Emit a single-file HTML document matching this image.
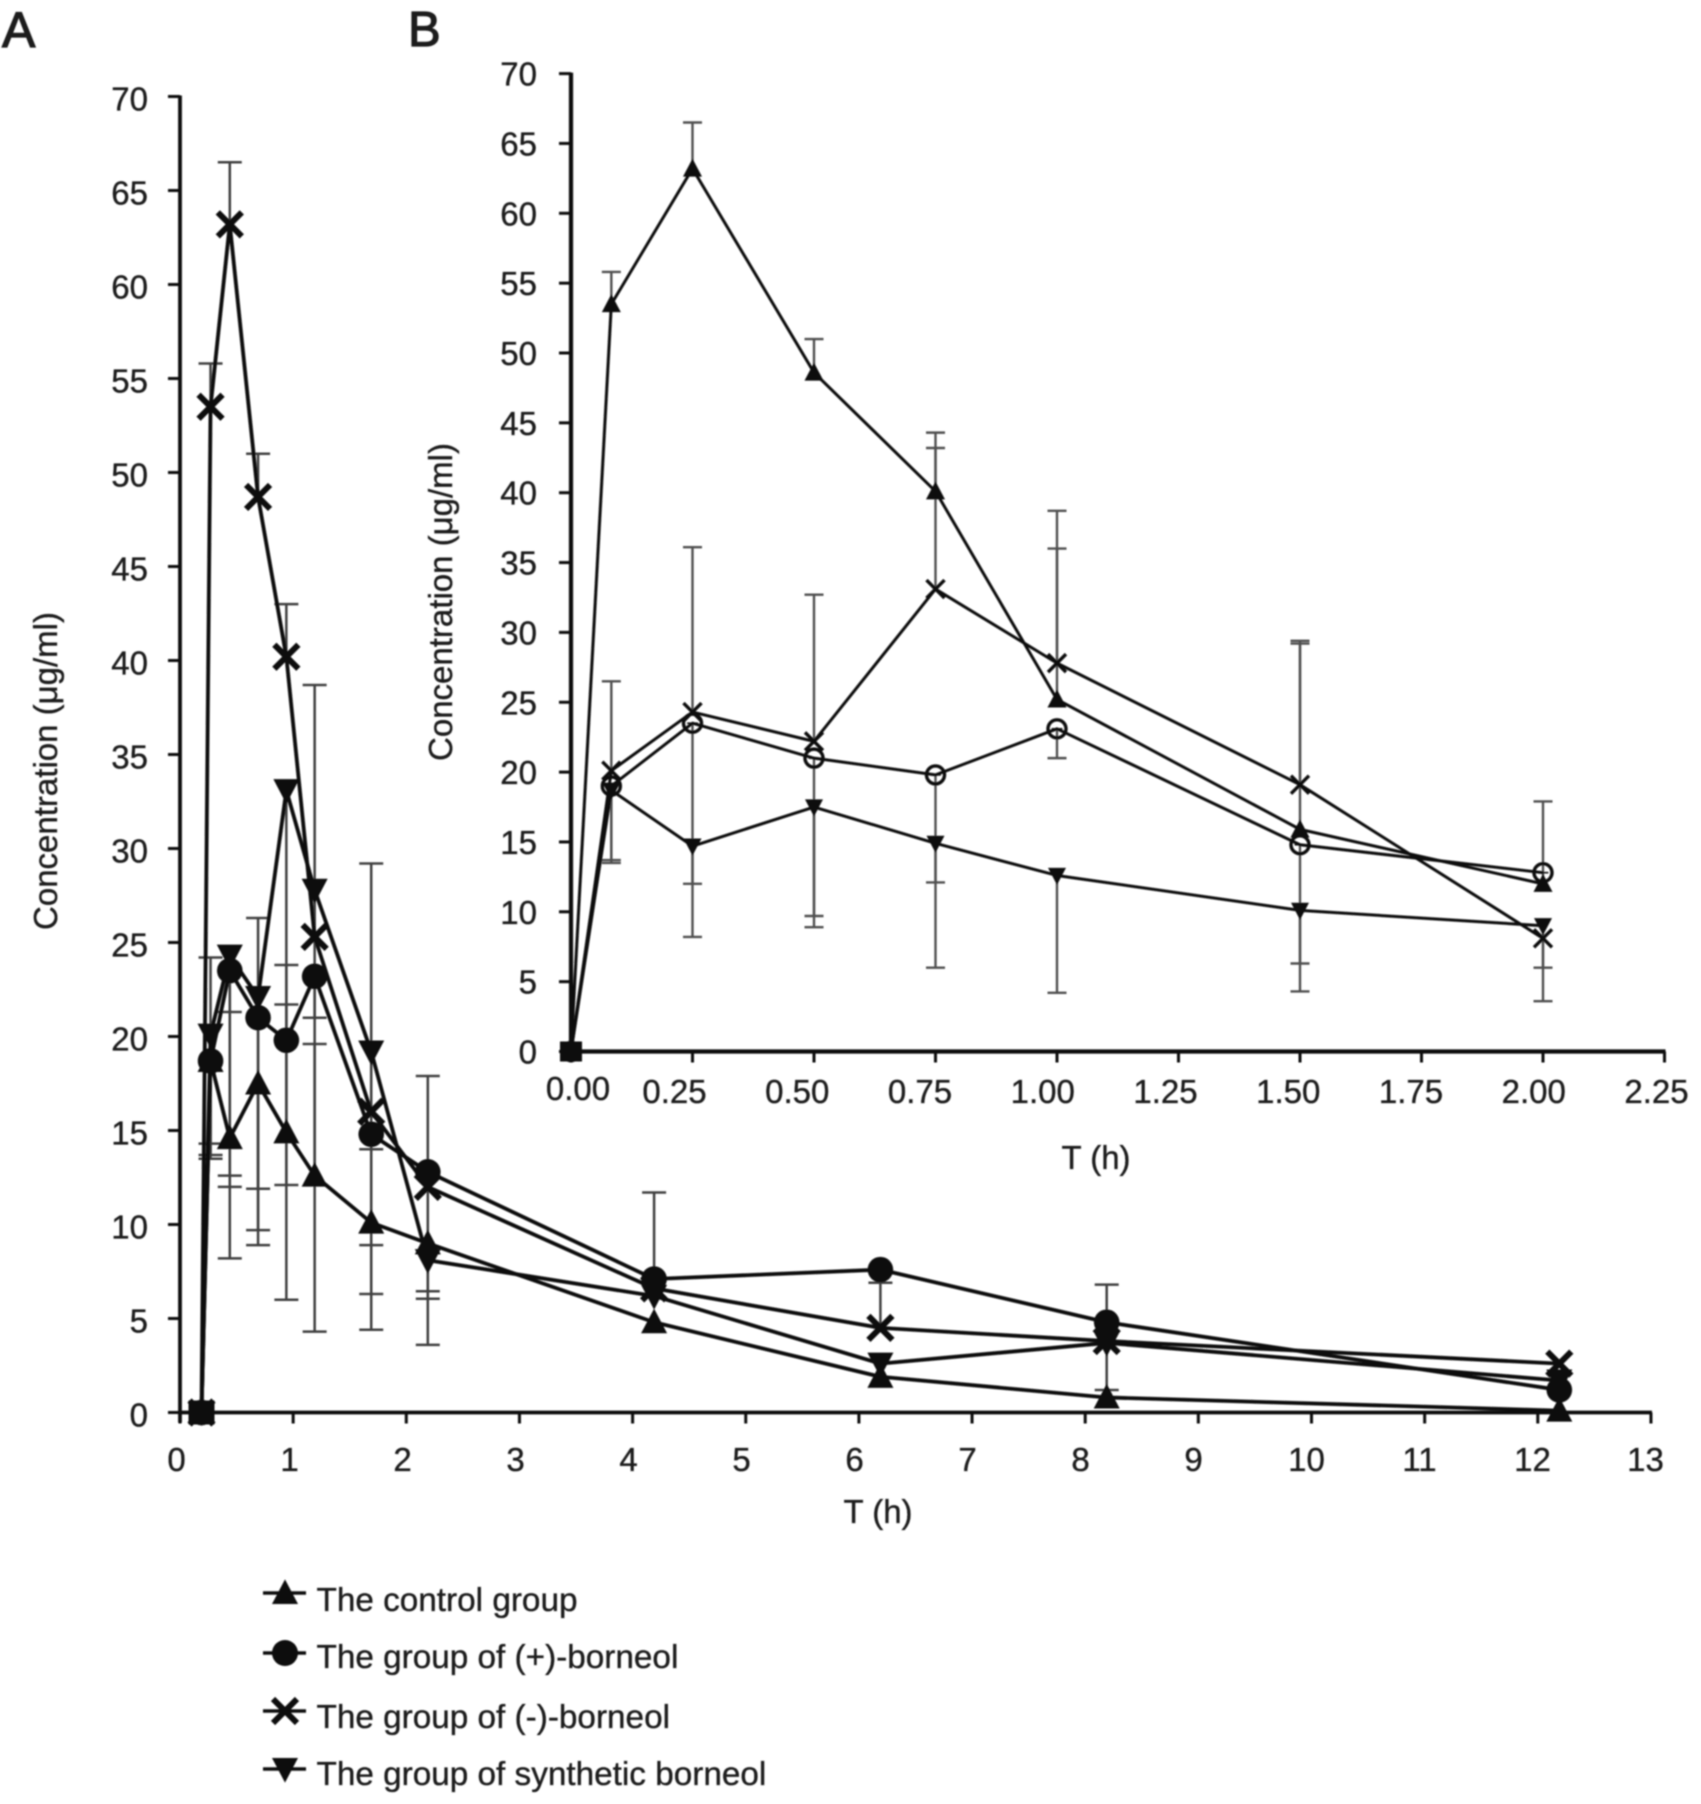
<!DOCTYPE html>
<html lang="en">
<head>
<meta charset="utf-8">
<title>Concentration over time by borneol group</title>
<style>
html,body{margin:0;padding:0;background:#fff;width:1701px;height:1804px;overflow:hidden}
svg{display:block}
text{font-family:"Liberation Sans",sans-serif;fill:#1a1a1a;stroke:#1a1a1a;stroke-width:0.35px}
</style>
</head>
<body>
<svg id="figure" xmlns="http://www.w3.org/2000/svg" width="1701" height="1804" viewBox="0 0 1701 1804">
<defs><filter id="soft" x="-2%" y="-2%" width="104%" height="104%"><feGaussianBlur stdDeviation="0.7"/></filter></defs>
<rect width="1701" height="1804" fill="#fff"/>
<g id="root" filter="url(#soft)">
<text x="2" y="47" font-size="50" style="stroke-width:1.2px">A</text>
<text x="408" y="46" font-size="49" style="stroke-width:1.2px">B</text>
<text transform="translate(57,771) rotate(-90)" text-anchor="middle" font-size="33">Concentration (μg/ml)</text>
<text transform="translate(452,602) rotate(-90)" text-anchor="middle" font-size="33">Concentration (μg/ml)</text>
<text x="878" y="1523" text-anchor="middle" font-size="33">T (h)</text>
<text x="1096" y="1169" text-anchor="middle" font-size="33">T (h)</text>
<g id="legend">
<text x="316.5" y="1611" font-size="33.3">The control group</text>
<text x="316.5" y="1668" font-size="33.3">The group of (+)-borneol</text>
<text x="316.5" y="1728" font-size="33.3">The group of (-)-borneol</text>
<text x="316.5" y="1785" font-size="33.3">The group of synthetic borneol</text>
</g>
</g>
</svg>
<script>
// ---- shared data ----
const yTickValues = [0,5,10,15,20,25,30,35,40,45,50,55,60,65,70];
const xTickValuesA = [0,1,2,3,4,5,6,7,8,9,10,11,12,13];
const xTickValuesB = [0,0.25,0.5,0.75,1,1.25,1.5,1.75,2,2.25];
const xTickLabelsB = ['0.00','0.25','0.50','0.75','1.00','1.25','1.50','1.75','2.00','2.25'];

// ---- panel A data ----
const timesA = [0.19,0.27,0.44,0.69,0.94,1.19,1.69,2.19,4.19,6.19,8.19,12.19];
const controlA = [0,18.7,14.6,17.5,14.9,12.6,10.1,9,4.8,1.9,0.8,0.1];
const plusA = [0,18.7,23.5,21,19.8,23.2,14.8,12.8,7.1,7.6,4.8,1.2];
const minusA = [0,53.5,63.2,48.7,40.2,25.3,16,12,6.6,4.5,3.8,2.6];
const syntheticA = [0,20.1,24.3,22.1,33.1,27.8,19.2,8.1,6.2,2.6,3.7,1.7];
const errMinusA = [null,55.8,66.5,51,43,38.7,29.2,17.9,11.7,6.9,6.8,null];
const errSyntheticA = [null,13.7,8.2,9.7,6,4.3,4.4,3.6,null,null,1.2,null];
const errPlusA = [null,24.2,21.3,26.3,23.8,21,14,6.45,null,null,null,null];
const errControlA = [null,14.3,12.6,11.9,21.7,19.6,8.9,6.05,null,null,null,null];
const errExtraA = [null,13.5,12,8.9,12.1,null,6.3,null,null,null,null,null];

// ---- panel B data ----
const timesB = [0,0.083,0.25,0.5,0.75,1,1.5,2];
const triangleB = [0,53.5,63.2,48.6,40.1,25.2,15.9,12];
const crossB = [0,20.1,24.3,22.2,33.1,27.8,19.1,8.1];
const circleB = [0,19,23.5,21,19.8,23.1,14.8,12.8];
const downB = [0,18.7,14.7,17.5,14.9,12.6,10.1,9];
const errTriangleB = [null,55.8,66.5,51,44.3,38.7,29.4,17.9];
const errCrossB = [null,26.5,36.1,32.7,43.2,36,29.2,3.6];
const errCircleB = [null,13.7,12,9.7,12.1,21,6.3,null];
const errDownB = [null,13.5,8.2,8.9,6,4.2,4.3,6];

// ---- axis functions ----
function xA(t){ return 180 + t * 113.15; }
function yA(v){ return 1412.5 - v * 18.8; }
function xB(t){ return 571 + t * 486; }
function yB(v){ return 1051.5 - v * 13.97; }
function xLabelA(t){ return 176.5 + t * 113; }
function xLabelB(t){ return t === 0 ? 578 : 674.5 + (t - 0.25) * 491; }
function yLabelOffsetB(t){ return t === 0 ? -3 : 0; }

const NS = 'http://www.w3.org/2000/svg';
const root = document.getElementById('root');
const INK = '#101010';

function make(tag, attrs, parent, name){
  const e = document.createElementNS(NS, tag);
  for (const k in attrs) e.setAttribute(k, attrs[k]);
  
  
  (parent || root).appendChild(e);
  return e;
}
function group(name){ return make('g', {}, root, name); }

function marker(kind, cx, cy, s, sw, parent, name){
  if (kind === 'up'){
    make('polygon', {points:[cx,cy-s*1.05,cx-s,cy+s*0.85,cx+s,cy+s*0.85].join(' '), fill:INK}, parent, name);
  } else if (kind === 'down'){
    make('polygon', {points:[cx,cy+s*1.05,cx-s,cy-s*0.85,cx+s,cy-s*0.85].join(' '), fill:INK}, parent, name);
  } else if (kind === 'disc'){
    make('circle', {cx:cx, cy:cy, r:s, fill:INK}, parent, name);
  } else if (kind === 'ring'){
    make('circle', {cx:cx, cy:cy, r:s, fill:'none', stroke:INK, 'stroke-width':sw}, parent, name);
    make('line', {x1:cx-s*0.6, x2:cx+s*0.6, y1:cy, y2:cy, stroke:INK, 'stroke-width':1.6}, parent, name + '-bar');
  } else {
    make('path', {d:'M'+(cx-s)+' '+(cy-s)+'L'+(cx+s)+' '+(cy+s)+'M'+(cx+s)+' '+(cy-s)+'L'+(cx-s)+' '+(cy+s), fill:'none', stroke:INK, 'stroke-width':sw}, parent, name);
  }
}

function drawAxes(prefix, fx, fy, xVals, xLabels, fLabelX, fLabelDy, yLabelRight, labelY, yShift, xStart, xEnd, yBottom, sw){
  const g = group(prefix + '-axes');
  make('line', {x1:fx(0), x2:fx(0), y1:fy(70)-1, y2:yBottom, stroke:INK, 'stroke-width':sw}, g, prefix + '-y-axis');
  make('line', {x1:xStart, x2:xEnd+1, y1:fy(0), y2:fy(0), stroke:INK, 'stroke-width':sw}, g, prefix + '-x-axis');
  yTickValues.forEach(function(v){
    make('line', {x1:fx(0)-12, x2:fx(0), y1:fy(v), y2:fy(v), stroke:INK, 'stroke-width':3}, g, prefix + '-y-tick');
    const t = make('text', {x:yLabelRight, y:fy(v)+yShift+12, 'text-anchor':'end', 'font-size':33}, g, prefix + '-y-tick-label');
    t.textContent = String(v);
  });
  xVals.forEach(function(v, i){
    make('line', {x1:fx(v), x2:fx(v), y1:fy(0), y2:fy(0)+11, stroke:INK, 'stroke-width':3}, g, prefix + '-x-tick');
    const t = make('text', {x:fLabelX(v), y:labelY+fLabelDy(v), 'text-anchor':'middle', 'font-size':33}, g, prefix + '-x-tick-label');
    t.textContent = xLabels[i];
  });
}

function drawErrors(prefix, times, fx, fy, values, errs, cap, sw, color){
  const g = group(prefix + '-error-bars');
  errs.forEach(function(err, i){
    const base = values[i];
    err.forEach(function(c, j){
      if (c === null) return;
      const x = fx(times[j]);
      make('line', {x1:x, x2:x, y1:fy(base[j]), y2:fy(c), stroke:color, 'stroke-width':sw}, g, prefix + '-error-whisker');
      make('line', {x1:x-cap, x2:x+cap, y1:fy(c), y2:fy(c), stroke:color, 'stroke-width':sw}, g, prefix + '-error-cap');
    });
  });
}

function drawSeries(name, times, vals, fx, fy, kind, size, lineW, markW){
  const g = group(name);
  const pts = vals.map(function(v, i){ return fx(times[i]) + ',' + fy(v); }).join(' ');
  make('polyline', {points:pts, fill:'none', stroke:INK, 'stroke-width':lineW, 'stroke-linejoin':'round'}, g, name + '-line');
  vals.forEach(function(v, i){
    marker(kind, fx(times[i]), fy(v), size, markW, g, name + '-point');
  });
}

// ---- Panel B (drawn first, panel A overlaps it on the left) ----
drawAxes('panel-b', xB, yB, xTickValuesB, xTickLabelsB, xLabelB, yLabelOffsetB, 537, 1103, 0, xB(0), xB(2.25), yB(0), 4.2);
drawErrors('panel-b', timesB, xB, yB, [triangleB, crossB, circleB, downB], [errTriangleB, errCrossB, errCircleB, errDownB], 9.5, 2.4, '#4f4f4f');
drawSeries('panel-b-triangle-series', timesB, triangleB, xB, yB, 'up', 9.5, 3, 3.4);
drawSeries('panel-b-cross-series', timesB, crossB, xB, yB, 'cross', 9, 3, 3.4);
drawSeries('panel-b-circle-series', timesB, circleB, xB, yB, 'ring', 9, 3, 3.4);
drawSeries('panel-b-inverted-triangle-series', timesB, downB, xB, yB, 'down', 9, 3, 3.4);
make('rect', {x:xB(timesB[0])-11, y:yB(downB[0])-10, width:22, height:20, fill:INK}, root, 'panel-b-zero-point-cluster');

// ---- Panel A ----
drawAxes('panel-a', xA, yA, xTickValuesA, xTickValuesA.map(String), xLabelA, function(){ return 0; }, 148, 1471, 2, xA(0), xA(13), yA(0)+10, 3.8);
drawErrors('panel-a', timesA, xA, yA, [minusA, syntheticA, plusA, controlA, plusA], [errMinusA, errSyntheticA, errPlusA, errControlA, errExtraA], 12, 2.5, '#404040');
drawSeries('panel-a-control-series', timesA, controlA, xA, yA, 'up', 13, 3.8, 3);
drawSeries('panel-a-synthetic-series', timesA, syntheticA, xA, yA, 'down', 13, 3.8, 3);
drawSeries('panel-a-minus-borneol-series', timesA, minusA, xA, yA, 'cross', 12, 3.8, 6);
drawSeries('panel-a-plus-borneol-series', timesA, plusA, xA, yA, 'disc', 12.8, 3.8, 3);
make('rect', {x:xA(timesA[0])-13, y:yA(controlA[0])-12, width:26, height:24, fill:INK}, root, 'panel-a-zero-point-cluster');

// ---- Legend keys ----
const legendKinds = ['up','disc','cross','down'];
const legendKeyNames = ['legend-key-control','legend-key-plus-borneol','legend-key-minus-borneol','legend-key-synthetic-borneol'];
const legendRows = [1593,1653,1711,1769];
const legendNode = document.getElementById('legend');
legendKinds.forEach(function(kind, i){
  make('line', {x1:263, x2:306, y1:legendRows[i], y2:legendRows[i], stroke:INK, 'stroke-width':3.4}, legendNode, legendKeyNames[i] + '-line');
  marker(kind, 285, legendRows[i], kind === 'cross' ? 12 : 13, 6, legendNode, legendKeyNames[i] + '-marker');
});
</script>
</body>
</html>
